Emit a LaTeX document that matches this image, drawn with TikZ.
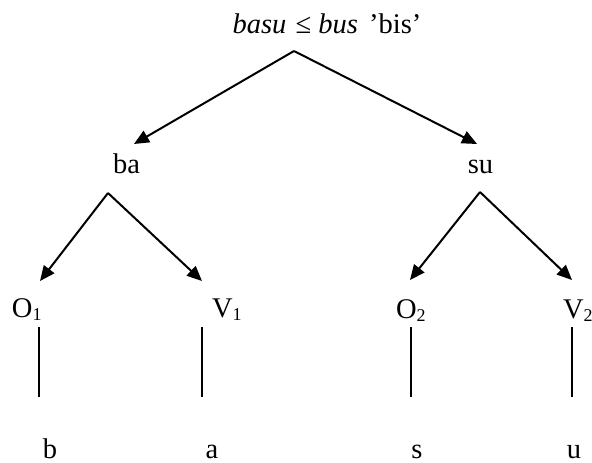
\documentclass[tikz,border=0pt]{standalone}
\usepackage{fontspec}
\setmainfont{Liberation Serif}
\usetikzlibrary{arrows.meta}
\newcommand{\subsc}[1]{\raisebox{-3.5pt}{\fontsize{18}{18}\selectfont #1}}
\tikzset{
  lbl/.style={inner sep=0pt, outer sep=0pt, anchor=base, font=\fontsize{28.5}{30}\selectfont},
  lblw/.style={lbl, anchor=base west},
  arr/.style={line width=2pt, -{Triangle[length=15pt,width=13pt]}},
  stem/.style={line width=2pt}
}
\begin{document}
\begin{tikzpicture}[x=1pt,y=-1pt]
\useasboundingbox (0,0) rectangle (592,463);
% labels
\node[lbl] (root) at (327,33) {\textit{basu}\hspace{2pt} ≤ \textit{bus} \hspace{4pt}’bis’};
\node[lbl] (ba) at (126.5,173) {ba};
\node[lbl] (su) at (480.5,173) {su};
\node[lblw] (O1) at (12,317) {O\subsc{1}};
\node[lblw] (V1) at (212,317) {V\subsc{1}};
\node[lblw] (O2) at (396,318) {O\subsc{2}};
\node[lblw] (V2) at (563,318) {V\subsc{2}};
\node[lbl] (b) at (50,458) {b};
\node[lbl] (a) at (212,458) {a};
\node[lbl] (s) at (417,458) {s};
\node[lbl] (u) at (574,458) {u};
% arrow end points
\coordinate (rootapex) at (294,51);
\coordinate (batip) at (134,144);
\coordinate (sutip) at (477,144);
\coordinate (baapex) at (108,193);
\coordinate (O1tip) at (40,281);
\coordinate (V1tip) at (202,281);
\coordinate (suapex) at (480,192);
\coordinate (O2tip) at (410,280);
\coordinate (V2tip) at (572,280);
\draw[arr] (rootapex) -- (batip);
\draw[arr] (rootapex) -- (sutip);
\draw[arr] (baapex) -- (O1tip);
\draw[arr] (baapex) -- (V1tip);
\draw[arr] (suapex) -- (O2tip);
\draw[arr] (suapex) -- (V2tip);
% stems
\coordinate (O1t) at (39,327); \coordinate (O1b) at (39,397);
\coordinate (V1t) at (202,327); \coordinate (V1b) at (202,397);
\coordinate (O2t) at (411,327); \coordinate (O2b) at (411,397);
\coordinate (V2t) at (572,327); \coordinate (V2b) at (572,397);
\draw[stem] (O1t) -- (O1b);
\draw[stem] (V1t) -- (V1b);
\draw[stem] (O2t) -- (O2b);
\draw[stem] (V2t) -- (V2b);
\end{tikzpicture}
\end{document}
